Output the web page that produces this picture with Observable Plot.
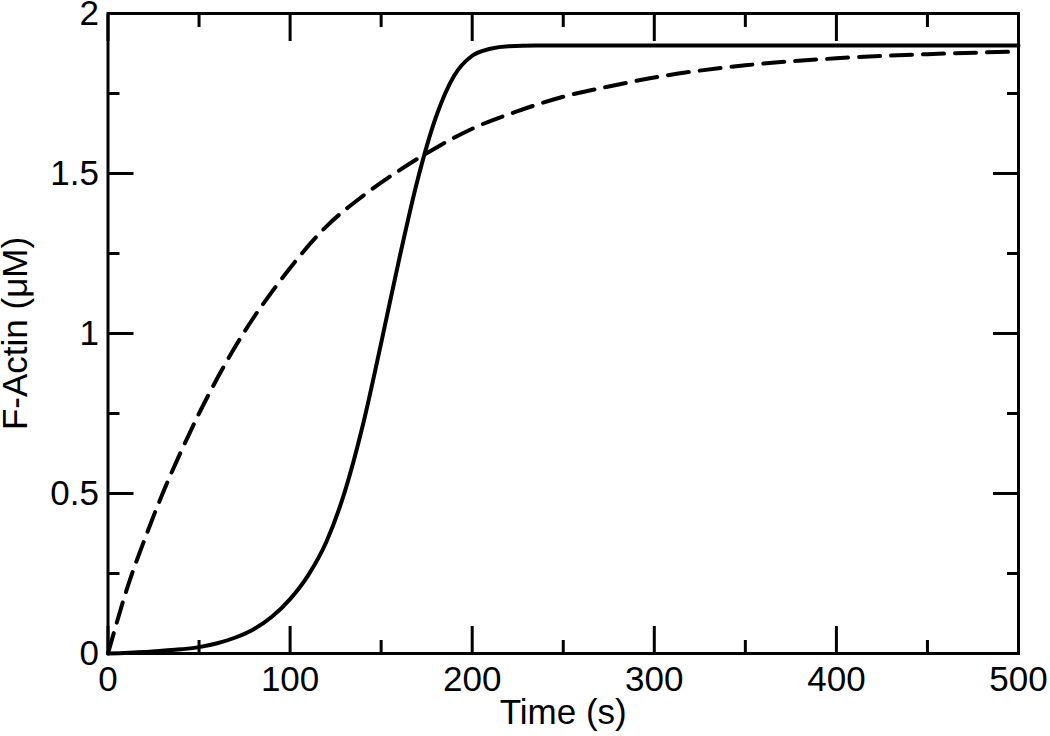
<!DOCTYPE html>
<html><head><meta charset="utf-8">
<script src="https://cdn.jsdelivr.net/npm/d3@7"></script>
<script src="https://cdn.jsdelivr.net/npm/@observablehq/plot@0.6"></script>
<style>html,body{margin:0;padding:0;background:#fff} svg{display:block}</style>
</head><body><div id="chart"></div>
<script>
// Solid curve (sigmoidal polymerization)
const solidTime  = [0, 20, 40, 50, 60, 70, 80, 90, 100, 110, 120, 130, 140, 150, 160, 170, 180, 190, 200, 210, 220, 235, 300, 400, 500];
const solidValue = [0, 0.005, 0.013, 0.02, 0.032, 0.05, 0.076, 0.115, 0.17, 0.245, 0.35, 0.505, 0.715, 0.97, 1.235, 1.48, 1.675, 1.805, 1.868, 1.89, 1.898, 1.9, 1.9, 1.9, 1.9];
// Dashed curve (exponential-like approach)
const dashedTime  = [0, 5, 10, 20, 30, 40, 50, 60, 70, 80, 90, 100, 120, 140, 160, 180, 200, 225, 250, 275, 300, 350, 400, 450, 500];
const dashedValue = [0, 0.1, 0.195, 0.355, 0.5, 0.63, 0.75, 0.86, 0.96, 1.05, 1.13, 1.205, 1.335, 1.43, 1.51, 1.58, 1.64, 1.695, 1.74, 1.772, 1.8, 1.838, 1.86, 1.873, 1.881];

const xMajorTicks = [0, 100, 200, 300, 400, 500];
const xMinorTicks = [50, 150, 250, 350, 450];
const xTickLabels = ["0", "100", "200", "300", "400", "500"];
const yMajorTicks = [0, 0.5, 1, 1.5, 2];
const yMinorTicks = [0.25, 0.75, 1.25, 1.75];
const yTickLabels = ["0", "0.5", "1", "1.5", "2"];
const xTitle = "Time (s)";
const yTitle = "F-Actin (μM)";

const solid = solidTime.map((t, i) => ({t, v: solidValue[i]}));
const dashed = dashedTime.map((t, i) => ({t, v: dashedValue[i]}));

const font = "'Liberation Sans', Arial, Helvetica, sans-serif";
const FS = 35;

const chart = Plot.plot({
  width: 1050, height: 736,
  marginLeft: 107.5, marginRight: 32, marginTop: 13, marginBottom: 83,
  x: {domain: [0, 500], label: null},
  y: {domain: [0, 2], label: null},
  style: {fontFamily: font, fontSize: FS + "px", background: "#fff", color: "#000", overflow: "visible"},
  marks: [
    Plot.line(dashed, {x: "t", y: "v", stroke: "#000", strokeWidth: 4, strokeDasharray: "21,11", curve: "monotone-x"}),
    Plot.line(solid, {x: "t", y: "v", stroke: "#000", strokeWidth: 4, curve: "monotone-x"}),
    // inward ticks, all four sides
    Plot.axisX(xMajorTicks, {anchor: "bottom", tickSize: -27, strokeWidth: 3, fill: "none", label: null}),
    Plot.axisX(xMinorTicks, {anchor: "bottom", tickSize: -13, strokeWidth: 3, fill: "none", label: null}),
    Plot.axisX(xMajorTicks, {anchor: "top", tickSize: -27, strokeWidth: 3, fill: "none", label: null}),
    Plot.axisX(xMinorTicks, {anchor: "top", tickSize: -13, strokeWidth: 3, fill: "none", label: null}),
    Plot.axisY(yMajorTicks, {anchor: "left", tickSize: -26, strokeWidth: 3, fill: "none", label: null}),
    Plot.axisY(yMinorTicks, {anchor: "left", tickSize: -12, strokeWidth: 3, fill: "none", label: null}),
    Plot.axisY(yMajorTicks, {anchor: "right", tickSize: -26, strokeWidth: 3, fill: "none", label: null}),
    Plot.axisY(yMinorTicks, {anchor: "right", tickSize: -12, strokeWidth: 3, fill: "none", label: null}),
    // tick labels
    Plot.axisX(xMajorTicks, {anchor: "bottom", tickSize: 0, tickPadding: 13, fontSize: FS, label: null,
      tickFormat: d => xTickLabels[xMajorTicks.indexOf(d)]}),
    Plot.axisY(yMajorTicks, {anchor: "left", tickSize: 0, tickPadding: 9, fontSize: FS, label: null,
      tickFormat: d => yTickLabels[yMajorTicks.indexOf(d)]}),
    // axis titles
    Plot.text([xTitle], {text: d => d, frameAnchor: "bottom", textAnchor: "middle", dy: 70, fontSize: FS}),
    Plot.text([yTitle], {text: d => d, frameAnchor: "left", textAnchor: "middle", dx: -92, rotate: -90, fontSize: FS}),
    Plot.frame({stroke: "#000", strokeWidth: 3})
  ]
});
document.getElementById("chart").appendChild(chart);
</script>
</body></html>
